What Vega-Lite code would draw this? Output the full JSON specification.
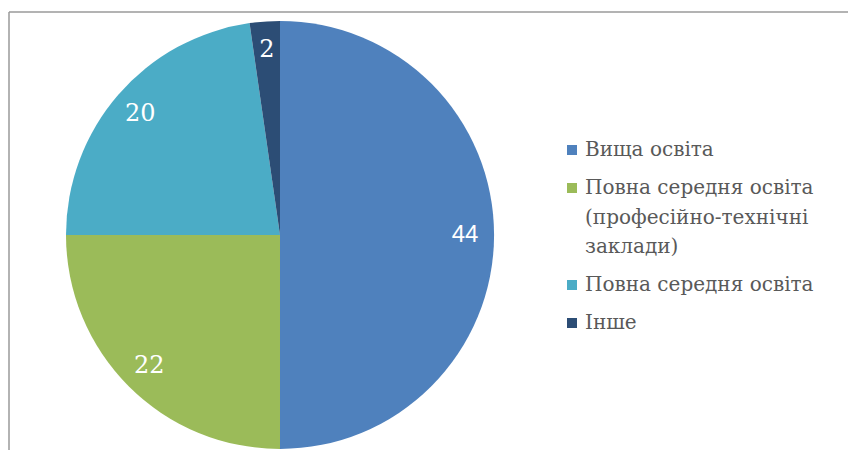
{
  "$schema": "https://vega.github.io/schema/vega-lite/v6.json",
  "width": 839,
  "height": 438,
  "autosize": {"type": "none"},
  "padding": {"left": 9, "top": 12, "right": 0, "bottom": 0},
  "background": "white",
  "config": {"view": {"stroke": null}},
  "data": {"values": [
    {"category": "Вища освіта", "value": 44, "order": 1},
    {"category": "Повна середня освіта (професійно-технічні заклади)", "value": 22, "order": 2},
    {"category": "Повна середня освіта", "value": 20, "order": 3},
    {"category": "Інше", "value": 2, "order": 4}
  ]},
  "layer": [
    {
      "data": {"values": [{"k": 1}]},
      "mark": {"type": "rule", "color": "#9a9a9a", "strokeWidth": 1.5},
      "encoding": {"y": {"datum": 1, "type": "quantitative", "scale": {"domain": [0, 1]}, "axis": null}}
    },
    {
      "data": {"values": [{"k": 1}]},
      "mark": {"type": "rule", "color": "#9a9a9a", "strokeWidth": 1.5},
      "encoding": {"x": {"datum": 0, "type": "quantitative", "scale": {"domain": [0, 1]}, "axis": null}}
    },
    {
      "mark": {"type": "arc", "outerRadius": 214},
      "encoding": {
        "theta": {"field": "value", "type": "quantitative", "stack": true},
        "order": {"field": "order", "type": "quantitative"},
        "x": {"datum": 0.323, "type": "quantitative", "scale": {"domain": [0, 1]}, "axis": null},
        "y": {"datum": 0.491, "type": "quantitative", "scale": {"domain": [0, 1]}, "axis": null},
        "color": {
          "field": "category",
          "type": "nominal",
          "scale": {
            "domain": ["Вища освіта", "Повна середня освіта (професійно-технічні заклади)", "Повна середня освіта", "Інше"],
            "range": ["#4F81BD", "#9BBB59", "#4BACC6", "#2C4D75"]
          },
          "legend": {
            "orient": "none",
            "legendX": 553,
            "legendY": 128,
            "title": null,
            "padding": 0,
            "symbolType": "square",
            "symbolSize": 100,
            "symbolStrokeWidth": 0,
            "labelFont": "DejaVu Serif",
            "labelFontSize": 20,
            "labelColor": "#595959",
            "labelLimit": 400,
            "labelOffset": 3,
            "rowPadding": 18,
            "labelExpr": "datum.label == 'Повна середня освіта (професійно-технічні заклади)' ? ['Повна середня освіта', '(професійно-технічні', 'заклади)'] : datum.label",
            "encode": {"labels": {"update": {"lineHeight": {"value": 29.5}}}}
          }
        }
      }
    },
    {
      "mark": {
        "type": "text",
        "radius": 185,
        "color": "white",
        "fontSize": 24,
        "font": {"expr": "datum.value === 44 ? 'Liberation Sans' : 'DejaVu Serif'"}
      },
      "encoding": {
        "theta": {"field": "value", "type": "quantitative", "stack": true},
        "order": {"field": "order", "type": "quantitative"},
        "x": {"datum": 0.323, "type": "quantitative", "scale": {"domain": [0, 1]}, "axis": null},
        "y": {"datum": 0.491, "type": "quantitative", "scale": {"domain": [0, 1]}, "axis": null},
        "text": {"field": "value", "type": "quantitative"}
      }
    }
  ]
}
